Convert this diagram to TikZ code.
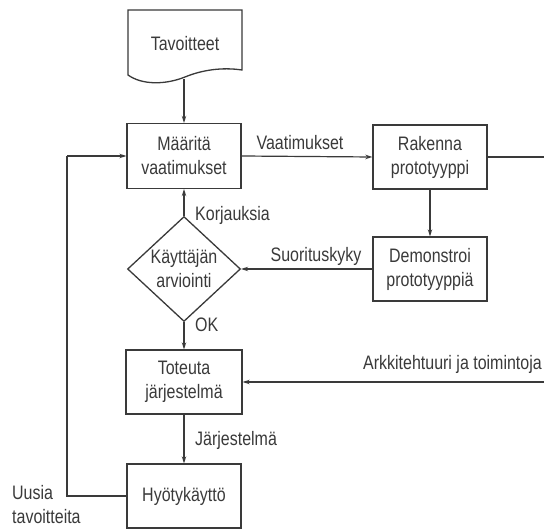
\documentclass[tikz,border=0pt]{standalone}
\usepackage{fontspec}
\setmainfont{Liberation Sans}[FakeStretch=0.82]
\usetikzlibrary{shapes.geometric,arrows.meta}
\definecolor{ink}{HTML}{3A3A3A}
\begin{document}
\begin{tikzpicture}[x=1pt,y=-1pt,
  every node/.style={text=ink,font=\fontsize{19.5}{24}\selectfont},
  proc/.style={draw=ink,line width=1.3pt,minimum width=114pt,minimum height=65pt,align=center,inner sep=0pt},
  decide/.style={draw=ink,line width=1.3pt,diamond,minimum width=113pt,minimum height=95pt,align=center,inner sep=0pt},
  lbl/.style={inner sep=0pt},
  flow/.style={draw=ink,line width=1.2pt,-{Stealth[length=7pt,width=4.5pt]}},
  link/.style={draw=ink,line width=1.2pt}]
\useasboundingbox[fill=white] (0,0) rectangle (544,529);

% document symbol for the goals
\draw[ink,line width=1.3pt] (128,10) -- (242,10) -- (242,70)
  .. controls (222,67) and (202,70) .. (185,77)
  .. controls (165,85) and (142,85) .. (128,75) -- cycle;
\node[lbl] (tav) at (185,44) {Tavoitteet};
\coordinate (tavb) at (184,79);

% process boxes
\node[proc] (maar) at (184,156) {Määritä\\vaatimukset};
\node[proc,minimum height=64pt] (rak) at (430,157) {Rakenna\\prototyyppi};
\node[proc,minimum height=64pt] (dem) at (430,269) {Demonstroi\\prototyyppiä};
\node[decide] (arv) at (184,269) {Käyttäjän\\arviointi};
\node[proc,minimum width=116pt,minimum height=64pt] (tot) at (184,382) {Toteuta\\järjestelmä};
\node[proc,minimum height=64pt] (hyo) at (184,496) {Hyötykäyttö};

% free ends at the right margin and the return loop corner
\coordinate (redge) at (544,157);
\coordinate (aedge) at (544,382);
\coordinate (loopb) at (67,496);
\coordinate (loopt) at (67,156);

% connectors
\draw[flow] (tavb) -- (maar.north);
\draw[flow] (maar.east) -- (rak.west);
\draw[link] (rak.east) -- (redge);
\draw[flow] (rak.south) -- (dem.north);
\draw[flow] (dem.west) -- (arv.east);
\draw[flow] (arv.north) -- (maar.south);
\draw[flow] (arv.south) -- (tot.north);
\draw[flow] (aedge) -- (tot.east);
\draw[flow] (tot.south) -- (hyo.north);
\draw[link] (hyo.west) -- (loopb) -- (loopt);
\draw[flow] (loopt) -- (maar.west);

% connector labels
\node[lbl] (lvaat) at (300,143) {Vaatimukset};
\node[lbl,anchor=west] (lkor) at (195,215) {Korjauksia};
\node[lbl] (lsuor) at (316,256) {Suorituskyky};
\node[lbl,anchor=west] (lok) at (195,325) {OK};
\node[lbl,anchor=east] (lark) at (542,364) {Arkkitehtuuri ja toimintoja};
\node[lbl,anchor=west] (ljar) at (195,440) {Järjestelmä};
\node[lbl,anchor=west,align=left] (luus) at (12,505) {Uusia\\tavoitteita};
\end{tikzpicture}
\end{document}
